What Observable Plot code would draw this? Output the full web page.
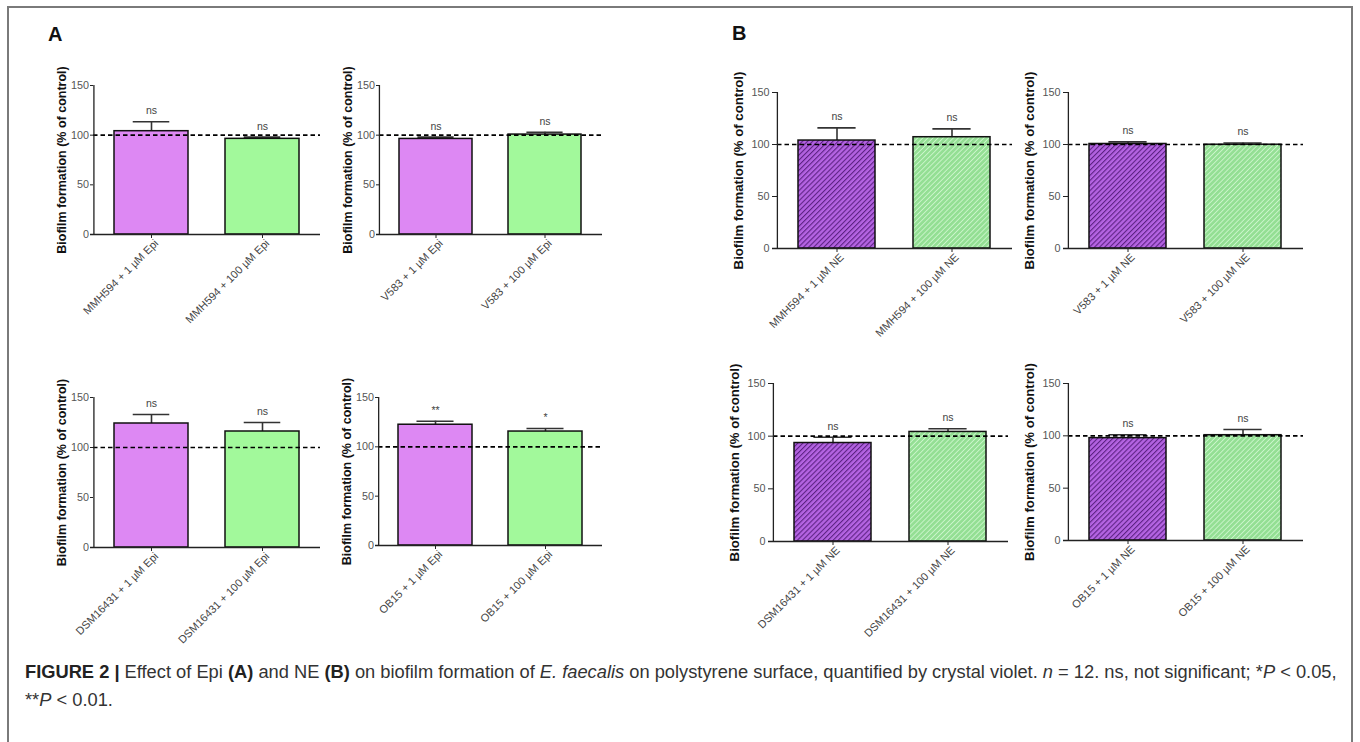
<!DOCTYPE html>
<html><head><meta charset="utf-8">
<script src="https://cdn.jsdelivr.net/npm/d3@7"></script>
<script src="https://cdn.jsdelivr.net/npm/@observablehq/plot@0.6"></script>
<style>
body{margin:0;background:#fff;font-family:"Liberation Sans",Arial,sans-serif;}
#fig{position:relative;width:1360px;height:742px;overflow:hidden;background:#fff;}
#frame{position:absolute;left:7px;top:6px;width:1346px;height:800px;border:2px solid #7a7a7a;box-sizing:border-box;}
.panel{position:absolute;}
.panel svg{overflow:visible;}
.letter{position:absolute;font-weight:bold;font-size:20px;line-height:20px;color:#111;}
#caption{position:absolute;left:25px;top:658px;width:1330px;font-size:18.3px;line-height:28px;color:#333;white-space:nowrap;}
#caption b{color:#222;}
.pA g[aria-label="y-axis label"] text{font-weight:bold;font-size:12.5px;fill:#111;}
.pB g[aria-label="y-axis label"] text{font-weight:bold;font-size:13.2px;fill:#111;}
g[aria-label="y-axis tick label"] text{font-size:10.8px;fill:#555;}
g[aria-label="x-axis tick label"] text{font-size:11px;fill:#444;}
</style>
</head><body>
<svg width="0" height="0" style="position:absolute">
 <defs>
  <pattern id="hatchP" patternUnits="userSpaceOnUse" width="3.6" height="3.6" patternTransform="rotate(45)">
   <rect width="3.6" height="3.6" fill="#b463e2"/>
   <line x1="0" y1="0" x2="0" y2="3.6" stroke="#5c2283" stroke-width="2.2"/>
  </pattern>
  <pattern id="hatchG" patternUnits="userSpaceOnUse" width="3.6" height="3.6" patternTransform="rotate(45)">
   <rect width="3.6" height="3.6" fill="#94df94"/>
   <line x1="0" y1="0" x2="0" y2="3.6" stroke="#cbf5cb" stroke-width="1.8"/>
  </pattern>
 </defs>
</svg>
<div id="fig">
 <div id="frame"></div>
 <div class="letter" style="left:48px;top:24px">A</div>
 <div class="letter" style="left:732px;top:23px">B</div>
 <div id="caption"><b>FIGURE 2 |</b> Effect of Epi <b>(A)</b> and NE <b>(B)</b> on biofilm formation of <i>E. faecalis</i> on polystyrene surface, quantified by crystal violet. <i>n</i> = 12. ns, not significant; *<i>P</i> &lt; 0.05,<br>**<i>P</i> &lt; 0.01.</div>
</div>
<script>
// ---- data ----
const strains = ["MMH594", "V583", "DSM16431", "OB15"];
const epiDoses = ["1 µM Epi", "100 µM Epi"];
const neDoses = ["1 µM NE", "100 µM NE"];
// mean biofilm formation (% of control), per strain: [low dose, high dose]
const epiMean = [[104, 96.3], [96.2, 100.6], [124, 116], [122.4, 115.5]];
const epiErrTop = [[113.5, 98], [98, 103], [133, 125], [126, 118.6]];
const epiSig = [["ns", "ns"], ["ns", "ns"], ["ns", "ns"], ["**", "*"]];
const neMean = [[103.8, 107], [100.5, 99.8], [93.5, 104], [97.8, 100.6]];
const neErrTop = [[116, 115], [102.5, 101.5], [99, 107], [101, 106]];
const neSig = [["ns", "ns"], ["ns", "ns"], ["ns", "ns"], ["ns", "ns"]];
const yTicks = [0, 50, 100, 150];
const yLabel = "Biofilm formation (% of control)";

// ---- layout (plot-area pixel boxes) ----
const layoutA = [
  {x0: 93, x1: 320, yTop: 85, y0: 234},
  {x0: 379, x1: 602, yTop: 85, y0: 234},
  {x0: 93, x1: 320, yTop: 397, y0: 547},
  {x0: 378, x1: 602, yTop: 397, y0: 545}
];
const layoutB = [
  {x0: 777, x1: 1012, yTop: 92, y0: 248},
  {x0: 1068, x1: 1303, yTop: 92, y0: 248},
  {x0: 773, x1: 1008, yTop: 383, y0: 541},
  {x0: 1068, x1: 1303, yTop: 383, y0: 540}
];
const styleA = {cls: "pA", fills: ["#dd88f3", "#a2f99b"], labelOffset: 36, tickSize: 3, tickPadding: 1.5};
const styleB = {cls: "pB", fills: ["url(#hatchP)", "url(#hatchG)"], labelOffset: 44, tickSize: 5, tickPadding: 3};

const PI = 0.33, PO = 0.18;
const fig = document.getElementById("fig");

function panel(box, labels, means, errs, sigs, st) {
  const ml = 66, mr = 10, mt = 28, mb = 100;
  const w = box.x1 - box.x0, h = box.y0 - box.yTop;
  const data = labels.map((l, i) => ({l, m: means[i], e: errs[i], s: sigs[i]}));
  const step = w / (labels.length - PI + 2 * PO);
  const bw = step * (1 - PI);
  const axisOffset = PO * step + bw / 2;
  const svg = Plot.plot({
    width: w + ml + mr, height: h + mt + mb,
    marginLeft: ml, marginRight: mr, marginTop: mt, marginBottom: mb,
    style: {fontFamily: "'Liberation Sans', Arial, sans-serif", fontSize: "10px", color: "#222", background: "transparent", overflow: "visible"},
    x: {domain: labels, paddingInner: PI, paddingOuter: PO},
    y: {domain: [0, 150]},
    marks: [
      Plot.ruleX(data, {x: "l", y1: "m", y2: "e", stroke: "#333", strokeWidth: 1.6}),
      Plot.tickY(data, {x: "l", y: "e", stroke: "#333", strokeWidth: 1.6, insetLeft: bw / 4, insetRight: bw / 4}),
      Plot.barY([data[0]], {x: "l", y: "m", fill: st.fills[0], stroke: "#111", strokeWidth: 1.5}),
      Plot.barY([data[1]], {x: "l", y: "m", fill: st.fills[1], stroke: "#111", strokeWidth: 1.5}),
      Plot.ruleY([100], {stroke: "#000", strokeWidth: 1.6, strokeDasharray: "4.5,3"}),
      Plot.text(data, {x: "l", y: "e", text: "s", dy: -11, fontSize: 10.5, fill: "#444"}),
      Plot.ruleY([0], {stroke: "#222", strokeWidth: 1.5, insetLeft: -st.tickSize}),
      Plot.ruleX([labels[0]], {dx: -axisOffset, stroke: "#222", strokeWidth: 1.3}),
      Plot.axisY({ticks: yTicks, tickSize: st.tickSize, tickPadding: st.tickPadding, stroke: "#222", label: yLabel, labelAnchor: "center", labelArrow: "none", labelOffset: st.labelOffset}),
      Plot.axisX({tickSize: 4, tickFormat: () => "", stroke: "#222", label: null}),
      Plot.axisX({tickSize: 0, tickPadding: 7, tickRotate: -45, dx: 5, label: null})
    ]
  });
  const div = document.createElement("div");
  div.className = "panel " + st.cls;
  div.style.left = (box.x0 - ml) + "px";
  div.style.top = (box.yTop - mt) + "px";
  div.appendChild(svg);
  fig.appendChild(div);
}

strains.forEach((s, i) => {
  panel(layoutA[i], epiDoses.map(d => `${s} + ${d}`), epiMean[i], epiErrTop[i], epiSig[i], styleA);
  panel(layoutB[i], neDoses.map(d => `${s} + ${d}`), neMean[i], neErrTop[i], neSig[i], styleB);
});
</script>
</body></html>
